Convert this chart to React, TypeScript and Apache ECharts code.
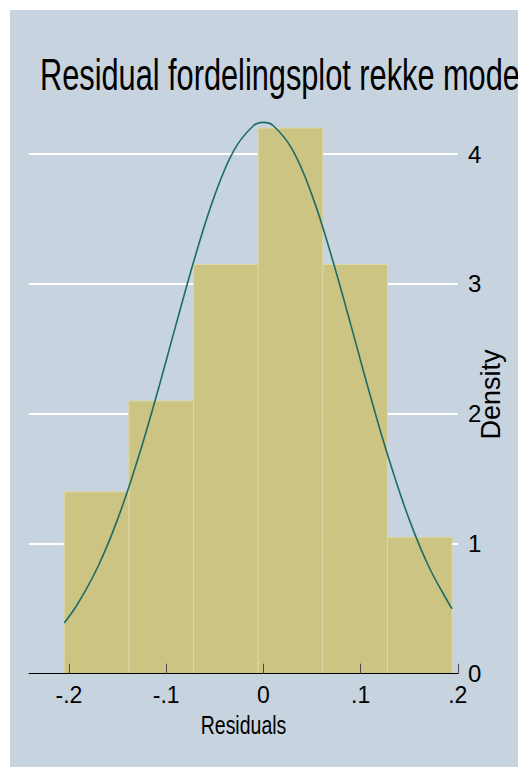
import React, { useEffect, useRef } from "react";
import * as echarts from "echarts";

// Histogram of residuals: bin edges and bar densities
const BIN_EDGES = [-0.2049, -0.1384, -0.0719, -0.0054, 0.0611, 0.1276, 0.1941];
const DENSITIES = [1.4, 2.1, 3.15, 4.2, 3.15, 1.05];

// Normal density overlay, sampled along the residual range
const CURVE_X = [
  -0.2049, -0.19, -0.17, -0.15, -0.13, -0.11, -0.09, -0.07, -0.05, -0.03, -0.01, 0,
  0.01, 0.03, 0.05, 0.07, 0.09, 0.11, 0.13, 0.15, 0.17, 0.19, 0.1941,
];
const CURVE_Y = [
  0.39, 0.55, 0.827, 1.188, 1.631, 2.14, 2.683, 3.216, 3.684, 4.033, 4.22, 4.244,
  4.22, 4.033, 3.684, 3.216, 2.683, 2.14, 1.631, 1.188, 0.827, 0.55, 0.5,
];

// Axis ticks and their labels
const X_TICKS = [-0.2, -0.1, 0, 0.1, 0.2];
const X_TICK_LABELS = ["-.2", "-.1", "0", ".1", ".2"];
const Y_TICKS = [0, 1, 2, 3, 4];

const TITLE = "Residual fordelingsplot rekke modell";
const X_TITLE = "Residuals";
const Y_TITLE = "Density";

const PANEL = "#c7d3de";
const BAR_FILL = "#ccc482";
const BAR_EDGE = "#ddd7a6";
const CURVE = "#1d6c66";
const SANS = "'Liberation Sans', Arial, sans-serif";

export default function App() {
  const ref = useRef<HTMLDivElement>(null);

  useEffect(() => {
    if (!ref.current) return;
    const chart = echarts.init(ref.current, undefined, { renderer: "svg" });

    const bars = DENSITIES.map((d, i) => [BIN_EDGES[i], BIN_EDGES[i + 1], d]);
    const curve = CURVE_X.map((x, i) => [x, CURVE_Y[i]]);

    chart.setOption({
      animation: false,
      backgroundColor: "#ffffff",
      graphic: [
        {
          type: "rect",
          z: -10,
          silent: true,
          shape: { x: 10, y: 10, width: 508, height: 757 },
          style: { fill: PANEL },
        },
        {
          // condensed graph title, running past the right edge
          type: "text",
          x: 40,
          y: 74,
          scaleX: 0.683,
          style: {
            text: TITLE,
            fill: "#000000",
            font: `45px ${SANS}`,
            verticalAlign: "middle",
            align: "left",
          },
        },
        {
          // x-axis title, centred under the plot region
          type: "text",
          x: 243.5,
          y: 725,
          scaleX: 0.75,
          style: {
            text: X_TITLE,
            fill: "#000000",
            font: `26px ${SANS}`,
            verticalAlign: "middle",
            align: "center",
          },
        },
      ],
      grid: {
        left: 29,
        right: 60,
        top: 115.1,
        bottom: 93.3,
        containLabel: false,
        outerBoundsMode: "none",
      },
      xAxis: {
        type: "value",
        min: -0.2411,
        max: 0.2002,
        z: 5,
        axisLine: { show: true, onZero: false, lineStyle: { color: "#000000", width: 1 } },
        axisTick: {
          show: true,
          inside: true,
          length: 10,
          customValues: X_TICKS,
          lineStyle: { color: "#4a4a4a", width: 1 },
        },
        axisLabel: {
          customValues: X_TICKS,
          margin: 10,
          color: "#000000",
          fontSize: 23,
          fontFamily: SANS,
          formatter: (v: number) => {
            const i = X_TICKS.findIndex((t) => Math.abs(t - v) < 1e-6);
            return i >= 0 ? X_TICK_LABELS[i] : "";
          },
        },
        splitLine: { show: false },
      },
      yAxis: {
        type: "value",
        position: "right",
        min: 0,
        max: 4.3,
        interval: 1,
        axisLine: { show: false },
        axisTick: { show: false },
        axisLabel: {
          customValues: Y_TICKS,
          margin: 10,
          color: "#000000",
          fontSize: 24,
          fontFamily: SANS,
          formatter: (v: number) => String(v),
        },
        splitLine: {
          show: true,
          showMinLine: false,
          showMaxLine: false,
          lineStyle: { color: "#ffffff", width: 2 },
        },
        name: Y_TITLE,
        nameLocation: "middle",
        nameGap: 19,
        nameMoveOverlap: false,
        nameTextStyle: { color: "#000000", fontSize: 27, fontFamily: SANS },
      },
      series: [
        {
          type: "custom",
          z: 2,
          data: bars,
          encode: { x: [0, 1], y: 2 },
          renderItem: (params: any, api: any) => {
            const p0 = api.coord([api.value(0), api.value(2)]);
            const p1 = api.coord([api.value(1), 0]);
            return {
              type: "rect",
              shape: { x: p0[0], y: p0[1], width: p1[0] - p0[0], height: p1[1] - p0[1] },
              style: { fill: BAR_FILL, stroke: BAR_EDGE, lineWidth: 1 },
            };
          },
        },
        {
          type: "line",
          z: 3,
          data: curve,
          showSymbol: false,
          smooth: 0.4,
          lineStyle: { color: CURVE, width: 1.6 },
        },
      ],
    });

    return () => chart.dispose();
  }, []);

  return (
    <div
      ref={ref}
      style={{ position: "absolute", left: 0, top: 0, width: 518, height: 767 }}
    />
  );
}
